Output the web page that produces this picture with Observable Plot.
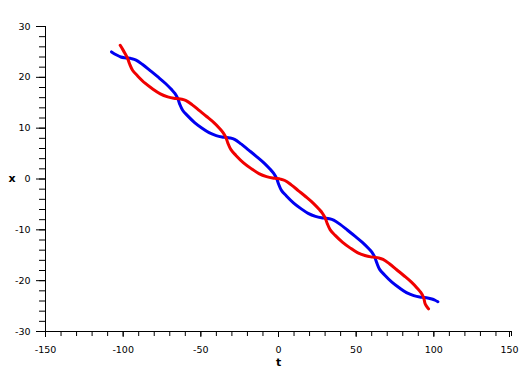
<!DOCTYPE html>
<html>
<head>
<meta charset="utf-8">
<script src="https://cdn.jsdelivr.net/npm/d3@7"></script>
<script src="https://cdn.jsdelivr.net/npm/@observablehq/plot@0.6"></script>
<style>
  html, body { margin: 0; padding: 0; background: #fff; }
</style>
</head>
<body>
<div id="chart"></div>
<script>
// Tick labels
const xTicks = [-150, -100, -50, 0, 50, 100, 150];
const yTicks = [-30, -20, -10, 0, 10, 20, 30];

// Blue trajectory (t, x)
const blueT = [-107.5, -104.5, -101.5, -99.2, -97.2,
  -94.6, -91.7, -87.5, -82.6, -77.8, -72.9, -69.0, -66.7, -64.8,
  -63.6, -61.7, -58.6, -54.0, -49.4, -44.7, -40.1, -36.4, -33.9,
  -31.3, -28.3, -24.1, -19.2, -14.3, -9.4, -5.5, -3.2, -1.2,
  0.05, 1.9, 5.1, 9.8, 14.45, 19.1, 23.8, 27.6, 30.1,
  32.65, 35.5, 39.7, 44.5, 49.2, 54.0, 57.85, 60.1, 62.0,
  63.3, 65.1, 68.3, 73.0, 77.7, 82.4, 87.1, 90.9, 93.4,
  96.0, 98.7, 100.8, 102.6];
const blueX = [25.0, 24.45, 24.0, 23.85, 23.8,
  23.68, 23.4, 22.52, 21.32, 20.12, 18.84, 17.64, 16.84, 15.8,
  14.74, 13.52, 12.46, 11.09, 10.02, 9.11, 8.54, 8.28, 8.2,
  8.08, 7.80, 6.90, 5.69, 4.47, 3.18, 1.96, 1.15, 0.1,
  -0.99, -2.24, -3.33, -4.74, -5.83, -6.76, -7.35, -7.62, -7.7,
  -7.82, -8.09, -8.93, -10.09, -11.24, -12.47, -13.63, -14.40, -15.4,
  -16.51, -17.77, -18.88, -20.30, -21.40, -22.35, -22.94, -23.22, -23.3,
  -23.4, -23.6, -23.85, -24.15];

// Red trajectory (t, x)
const redT = [-101.9, -100.3, -98.8, -97.2,
  -95.9, -93.96, -90.7, -85.9, -81.0, -76.1, -71.3, -67.4, -64.8,
  -62.3, -59.5, -55.5, -50.9, -46.3, -41.6, -37.9, -35.8, -33.9,
  -32.6, -30.6, -27.4, -22.5, -17.55, -12.6, -7.7, -3.8, -1.2,
  1.3, 4.1, 8.2, 12.9, 17.6, 22.3, 26.0, 28.2, 30.1,
  31.4, 33.3, 36.5, 41.3, 46.05, 50.8, 55.6, 59.45, 62.0,
  64.5, 67.3, 71.4, 76.1, 80.8, 85.6, 89.3, 91.5, 93.4,
  94.4, 95.5, 96.6];
const redX = [26.3, 25.5, 24.7, 23.8,
  22.68, 21.4, 20.28, 18.84, 17.72, 16.76, 16.16, 15.88, 15.8,
  15.69, 15.42, 14.58, 13.44, 12.30, 11.09, 9.95, 9.19, 8.2,
  7.07, 5.77, 4.64, 3.18, 2.04, 1.07, 0.46, 0.18, 0.1,
  -0.02, -0.29, -1.15, -2.32, -3.49, -4.74, -5.91, -6.69, -7.7,
  -8.78, -10.01, -11.09, -12.47, -13.55, -14.48, -15.05, -15.32, -15.4,
  -15.52, -15.80, -16.66, -17.85, -19.03, -20.30, -21.48, -22.27, -23.3,
  -24.55, -25.1, -25.55];

const blue = blueT.map((t, i) => ({t, x: blueX[i]}));
const red = redT.map((t, i) => ({t, x: redX[i]}));

const xMinor = d3.range(-150, 151, 10);
const yMinor = d3.range(-30, 31, 2);
const xTicksInner = xTicks.slice(0, -1);
const xTicksLast = xTicks.slice(-1);

const chart = Plot.plot({
  width: 519,
  height: 379,
  marginLeft: 45,
  marginRight: 8,
  marginTop: 26,
  marginBottom: 48,
  style: {fontFamily: "DejaVu Sans", fontSize: "9.5px", background: "#fff", color: "#000"},
  x: {domain: [-150, 150]},
  y: {domain: [-30, 30]},
  marks: [
    Plot.axisY({ticks: yMinor, tickSize: 6, tickFormat: () => "", label: null}),
    Plot.axisY({ticks: yTicks, tickSize: 9, tickPadding: 6, tickFormat: d => String(d), label: null}),
    Plot.axisX({ticks: xMinor, tickSize: 5, tickFormat: () => "", label: null}),
    Plot.axisX({ticks: xTicksInner, tickSize: 6, tickPadding: 9, tickFormat: d => String(d), label: null}),
    Plot.axisX({ticks: xTicksLast, tickSize: 6, tickPadding: 9, dx: -2, tickFormat: d => String(d), label: null}),
    Plot.ruleX([-150], {y1: -30, y2: 30, stroke: "#000"}),
    Plot.ruleY([-30], {x1: -150, x2: 150, stroke: "#000"}),
    Plot.text(["t"], {frameAnchor: "bottom", dy: 34, fontWeight: "bold", fontSize: 11}),
    Plot.text(["x"], {frameAnchor: "left", dx: -37, dy: -1, fontWeight: "bold", fontSize: 11}),
    Plot.line(blue, {x: "t", y: "x", stroke: "#0000f0", strokeWidth: 3, curve: "catmull-rom", strokeLinecap: "round"}),
    Plot.line(red, {x: "t", y: "x", stroke: "#f00000", strokeWidth: 3, curve: "catmull-rom", strokeLinecap: "round"})
  ]
});
document.getElementById("chart").appendChild(chart);
</script>
</body>
</html>
